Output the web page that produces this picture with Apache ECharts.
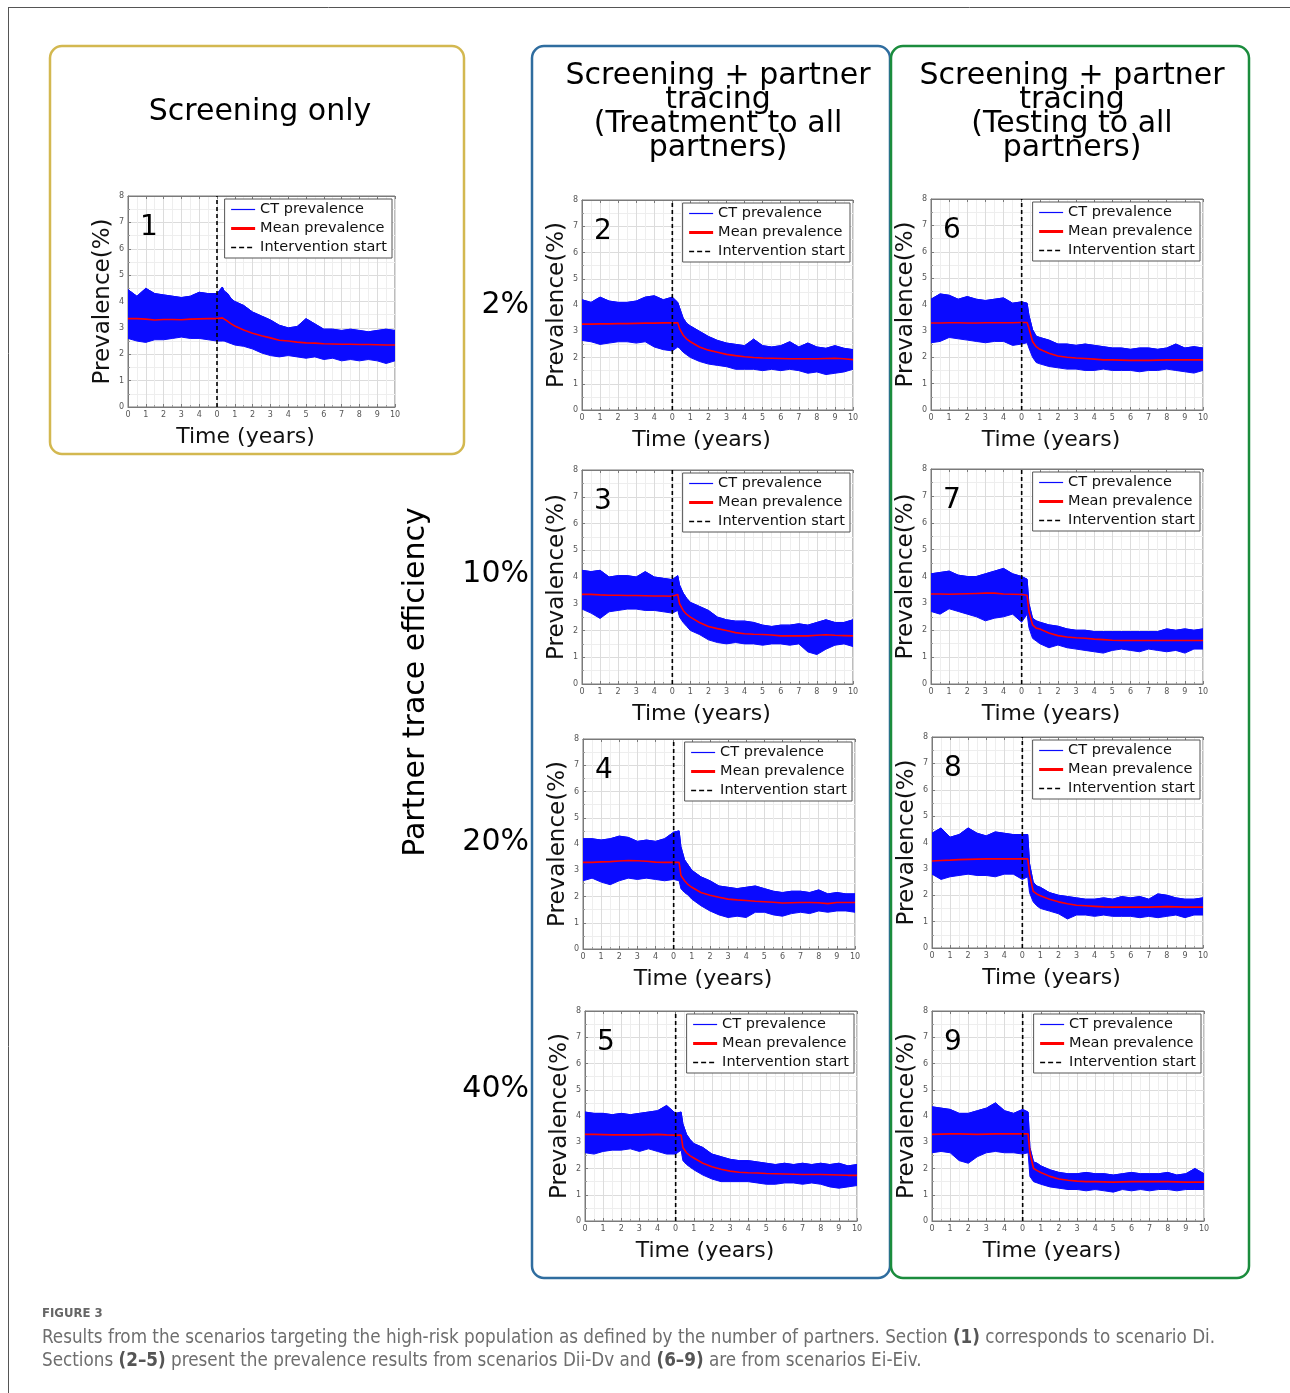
<!DOCTYPE html>
<html><head><meta charset="utf-8">
<script src="https://cdn.jsdelivr.net/npm/echarts@6/dist/echarts.min.js"></script>
<style>html,body{margin:0;padding:0;background:#fff}#c{width:1290px;height:1393px}</style>
</head><body><div id="c"></div>
<script>
// ---------- DATA ----------
const TIME = [0,0.5,1,1.5,2,2.5,3,3.5,4,4.5,5,5.3,5.4,5.6,5.8,6,6.5,7,7.5,8,8.5,9,9.5,10,10.5,11,11.5,12,12.5,13,13.5,14,14.5,15];
const X_TICK_LABELS = ['0','1','2','3','4','0','1','2','3','4','5','6','7','8','9','10'];
const INTERVENTION = 5;
const Y_MIN = 0, Y_MAX = 8;
const PANEL_LABELS = ['1','2','3','4','5','6','7','8','9'];
const LEGEND_NAMES = ['CT prevalence','Mean prevalence','Intervention start'];
const ROW_LABELS = ['2%','10%','20%','40%'];

const mean1 = [3.35,3.35,3.33,3.30,3.32,3.32,3.31,3.33,3.34,3.35,3.35, 3.38,3.34,3.25,3.15,3.07, 2.92,2.80,2.70,2.62,2.53,2.50,2.46,2.43,2.42,2.40,2.39,2.38,2.38,2.37,2.37,2.36,2.35,2.35];
const upper1 = [4.45,4.2,4.5,4.3,4.25,4.2,4.15,4.2,4.35,4.3,4.3, 4.55,4.4,4.3,4.1,4.0, 3.85,3.6,3.45,3.3,3.1,3.0,3.05,3.35,3.15,2.95,2.95,2.9,2.95,2.9,2.85,2.9,2.95,2.9];
const lower1 = [2.6,2.5,2.45,2.55,2.55,2.6,2.65,2.6,2.6,2.55,2.5, 2.5,2.5,2.45,2.4,2.35, 2.3,2.2,2.05,1.95,1.9,1.95,1.9,1.85,1.9,1.8,1.85,1.75,1.8,1.75,1.8,1.75,1.65,1.75];

const mean2 = [3.27,3.27,3.28,3.28,3.29,3.29,3.30,3.31,3.31,3.32,3.32, 3.32,3.1,2.85,2.7,2.6, 2.4,2.28,2.2,2.12,2.07,2.03,2.0,1.98,1.97,1.96,1.95,1.95,1.95,1.95,1.96,1.97,1.95,1.92];
const upper2 = [4.2,4.1,4.3,4.15,4.1,4.1,4.15,4.3,4.35,4.2,4.3, 4.1,3.9,3.5,3.3,3.2, 3.0,2.8,2.65,2.55,2.5,2.45,2.7,2.45,2.4,2.45,2.6,2.4,2.55,2.4,2.35,2.45,2.35,2.3];
const lower2 = [2.65,2.6,2.5,2.55,2.6,2.6,2.55,2.6,2.4,2.3,2.25, 2.4,2.35,2.2,2.1,2.0, 1.85,1.75,1.7,1.65,1.55,1.55,1.55,1.5,1.55,1.5,1.55,1.5,1.4,1.45,1.35,1.4,1.45,1.55];

const mean3 = [3.35,3.35,3.33,3.32,3.32,3.31,3.31,3.30,3.29,3.29,3.28, 3.35,3.0,2.75,2.6,2.5, 2.3,2.15,2.07,2.0,1.92,1.88,1.86,1.85,1.83,1.8,1.8,1.8,1.8,1.82,1.84,1.82,1.81,1.8];
const upper3 = [4.25,4.2,4.25,4.0,4.05,4.05,4.0,4.2,4.0,3.95,3.9, 4.05,3.7,3.4,3.2,3.05, 2.9,2.75,2.5,2.4,2.35,2.35,2.3,2.2,2.15,2.2,2.2,2.25,2.2,2.3,2.4,2.3,2.3,2.4];
const lower3 = [2.8,2.65,2.45,2.7,2.75,2.8,2.8,2.75,2.75,2.7,2.65, 2.75,2.5,2.3,2.15,2.0, 1.85,1.65,1.55,1.5,1.55,1.5,1.5,1.45,1.5,1.5,1.45,1.5,1.2,1.1,1.3,1.45,1.5,1.4];

const mean4 = [3.3,3.3,3.32,3.33,3.35,3.37,3.36,3.34,3.31,3.3,3.3, 3.3,2.8,2.6,2.45,2.35, 2.15,2.05,1.97,1.9,1.87,1.85,1.82,1.8,1.78,1.75,1.76,1.77,1.77,1.76,1.73,1.77,1.77,1.77];
const upper4 = [4.2,4.2,4.15,4.2,4.3,4.25,4.1,4.15,4.1,4.2,4.45, 4.5,3.9,3.4,3.2,3.0, 2.75,2.6,2.4,2.35,2.3,2.35,2.4,2.3,2.2,2.15,2.2,2.2,2.15,2.25,2.1,2.15,2.1,2.1];
const lower4 = [2.6,2.7,2.55,2.45,2.6,2.7,2.65,2.7,2.65,2.6,2.65, 2.6,2.3,2.15,2.05,1.9, 1.65,1.45,1.3,1.2,1.25,1.2,1.4,1.4,1.3,1.25,1.35,1.4,1.35,1.45,1.4,1.45,1.45,1.4];

const mean5 = [3.3,3.3,3.29,3.28,3.28,3.28,3.28,3.29,3.3,3.28,3.27, 3.27,2.8,2.6,2.48,2.4, 2.2,2.07,1.97,1.9,1.86,1.84,1.83,1.81,1.8,1.79,1.78,1.77,1.77,1.77,1.76,1.75,1.74,1.74];
const upper5 = [4.15,4.1,4.1,4.05,4.1,4.05,4.1,4.15,4.2,4.4,4.1, 4.15,3.7,3.3,3.1,2.95, 2.8,2.55,2.45,2.35,2.3,2.3,2.25,2.2,2.15,2.2,2.15,2.2,2.15,2.2,2.15,2.2,2.1,2.15];
const lower5 = [2.6,2.55,2.65,2.7,2.7,2.75,2.65,2.75,2.65,2.55,2.55, 2.7,2.3,2.15,2.05,1.95, 1.75,1.6,1.5,1.5,1.5,1.5,1.45,1.4,1.4,1.45,1.45,1.4,1.45,1.4,1.3,1.25,1.3,1.35];

const mean6 = [3.3,3.3,3.31,3.31,3.3,3.3,3.31,3.31,3.31,3.31,3.32, 3.32,3.1,2.6,2.4,2.3, 2.15,2.05,2.0,1.97,1.95,1.93,1.9,1.9,1.89,1.88,1.88,1.88,1.89,1.9,1.9,1.9,1.9,1.9];
const upper6 = [4.2,4.4,4.35,4.2,4.3,4.2,4.15,4.2,4.25,4.05,4.1, 4.05,3.6,3.05,2.8,2.75, 2.65,2.5,2.5,2.45,2.5,2.45,2.4,2.35,2.35,2.3,2.35,2.35,2.3,2.35,2.5,2.35,2.4,2.35];
const lower6 = [2.55,2.6,2.75,2.7,2.65,2.6,2.55,2.6,2.6,2.45,2.5, 2.55,2.35,2.0,1.8,1.75, 1.65,1.6,1.55,1.55,1.5,1.5,1.55,1.5,1.5,1.5,1.45,1.5,1.5,1.55,1.5,1.45,1.4,1.5];

const mean7 = [3.35,3.35,3.34,3.35,3.36,3.37,3.38,3.38,3.35,3.34,3.33, 3.3,2.7,2.2,2.08,2.05, 1.9,1.8,1.75,1.72,1.7,1.67,1.65,1.63,1.62,1.62,1.62,1.62,1.62,1.62,1.62,1.62,1.62,1.62];
const upper7 = [4.1,4.15,4.2,4.05,4.0,4.0,4.1,4.2,4.3,4.1,4.0, 3.9,3.0,2.45,2.35,2.3, 2.2,2.15,2.05,2.0,2.0,1.95,1.95,1.95,1.95,1.95,1.95,1.95,1.95,2.05,2.0,2.05,2.0,2.05];
const lower7 = [2.7,2.6,2.8,2.7,2.6,2.5,2.35,2.45,2.5,2.6,2.3, 2.6,2.1,1.7,1.6,1.5, 1.35,1.45,1.35,1.3,1.25,1.2,1.15,1.25,1.3,1.25,1.2,1.3,1.25,1.2,1.25,1.15,1.3,1.3];

const mean8 = [3.3,3.32,3.33,3.35,3.36,3.37,3.38,3.38,3.38,3.38,3.38, 3.38,2.8,2.15,2.05,1.98, 1.85,1.75,1.68,1.62,1.6,1.58,1.56,1.55,1.55,1.55,1.55,1.55,1.56,1.57,1.56,1.55,1.55,1.55];
const upper8 = [4.35,4.55,4.2,4.3,4.55,4.35,4.25,4.4,4.35,4.3,4.3, 4.3,3.2,2.5,2.35,2.3, 2.1,2.0,1.95,1.9,1.85,1.85,1.9,1.85,1.95,1.9,1.95,1.85,2.05,2.0,1.9,1.85,1.85,1.9];
const lower8 = [2.8,2.6,2.7,2.75,2.8,2.75,2.75,2.7,2.8,2.8,2.6, 2.7,2.1,1.75,1.6,1.5, 1.4,1.3,1.1,1.25,1.25,1.2,1.25,1.2,1.2,1.2,1.15,1.2,1.15,1.2,1.25,1.15,1.25,1.25];

const mean9 = [3.3,3.31,3.32,3.32,3.31,3.3,3.31,3.32,3.32,3.32,3.32, 3.32,2.6,2.0,1.92,1.85, 1.7,1.6,1.55,1.52,1.5,1.5,1.49,1.48,1.49,1.5,1.5,1.5,1.5,1.5,1.49,1.48,1.48,1.48];
const upper9 = [4.35,4.3,4.25,4.1,4.1,4.2,4.3,4.5,4.2,4.1,4.25, 4.15,2.8,2.25,2.2,2.1, 1.95,1.85,1.8,1.8,1.85,1.8,1.8,1.75,1.8,1.85,1.8,1.8,1.8,1.85,1.75,1.8,2.0,1.8];
const lower9 = [2.6,2.65,2.6,2.3,2.2,2.45,2.6,2.65,2.6,2.6,2.55, 2.6,1.7,1.5,1.45,1.4, 1.3,1.25,1.2,1.2,1.15,1.2,1.15,1.1,1.2,1.15,1.2,1.15,1.2,1.2,1.15,1.2,1.2,1.2];

const PANELS = [
  {mean:mean1, upper:upper1, lower:lower1},
  {mean:mean2, upper:upper2, lower:lower2},
  {mean:mean3, upper:upper3, lower:lower3},
  {mean:mean4, upper:upper4, lower:lower4},
  {mean:mean5, upper:upper5, lower:lower5},
  {mean:mean6, upper:upper6, lower:lower6},
  {mean:mean7, upper:upper7, lower:lower7},
  {mean:mean8, upper:upper8, lower:lower8},
  {mean:mean9, upper:upper9, lower:lower9}
];

// ---------- LAYOUT ----------
const W = 1290;
const LAYOUT = [ // [left, top, right, bottom] of each plot area
  [128,196,395,407],
  [582,200,853,410],
  [582,470,853,684],
  [583,739,855,949],
  [585,1011,857,1221],
  [931,199,1203,410],
  [931,469,1203,684],
  [932,737,1203,948],
  [932,1011,1204,1221]
];
const ROW_Y = [305,574,842,1089];
const F = "'DejaVu Sans', sans-serif";
const BLUE = '#0a0aff';
const HIDDEN = {color:'rgba(0,0,0,0)', borderWidth:0, opacity:0};

const chart = echarts.init(document.getElementById('c'));
const grids=[], xAxes=[], yAxes=[], series=[], legends=[], graphics=[];

PANELS.forEach((p,i)=>{
  const [l,t,r,b] = LAYOUT[i];
  grids.push({left:l, top:t, width:r-l, height:b-t, show:true, borderColor:'#7a7a7a', borderWidth:1, backgroundColor:'rgba(0,0,0,0)'});
  xAxes.push({
    type:'value', gridIndex:i, min:0, max:15, interval:1,
    axisLine:{show:true, onZero:false, lineStyle:{color:'#7a7a7a', width:1}},
    axisTick:{show:true, inside:true, length:3, lineStyle:{color:'#7a7a7a'}},
    minorTick:{show:true, splitNumber:2, length:2, lineStyle:{color:'#9a9a9a'}},
    axisLabel:{fontSize:8, color:'#555', margin:4, fontFamily:F, formatter:v=>X_TICK_LABELS[Math.round(v)]},
    splitLine:{show:true, lineStyle:{color:'#dcdcdc', width:1}},
    minorSplitLine:{show:true, lineStyle:{color:'#eeeeee', width:1}},
    name:'Time (years)', nameLocation:'middle', nameGap:19,
    nameTextStyle:{fontSize:22, fontFamily:F, color:'#111', padding:[0,32,0,0]}
  });
  xAxes.push({
    type:'value', gridIndex:i, min:0, max:15, interval:1, position:'top',
    axisLine:{show:true, onZero:false, lineStyle:{color:'#7a7a7a', width:1}},
    axisTick:{show:true, inside:true, length:3, lineStyle:{color:'#7a7a7a'}},
    axisLabel:{show:false}, splitLine:{show:false}
  });
  yAxes.push({
    type:'value', gridIndex:i, min:Y_MIN, max:Y_MAX, interval:1,
    axisLine:{show:true, onZero:false, lineStyle:{color:'#7a7a7a', width:1}},
    axisTick:{show:true, inside:true, length:3, lineStyle:{color:'#7a7a7a'}},
    minorTick:{show:true, splitNumber:2, length:2, lineStyle:{color:'#9a9a9a'}},
    axisLabel:{fontSize:8, color:'#555', margin:4, fontFamily:F},
    splitLine:{show:true, lineStyle:{color:'#dcdcdc', width:1}},
    minorSplitLine:{show:true, lineStyle:{color:'#eeeeee', width:1}},
    name:'Prevalence(%)', nameLocation:'middle', nameGap:12, nameRotate:90,
    nameTextStyle:{fontSize:23, fontFamily:F, color:'#111'}
  });
  const xi = 2*i;
  // band of trajectories: polygon between lower and upper envelopes, via axis scales
  series.push({
    type:'custom', name:'band', xAxisIndex:xi, yAxisIndex:i, silent:true, z:2, clip:true,
    data:TIME.map((tt,k)=>[tt,p.lower[k],p.upper[k]]),
    encode:{x:0, y:[1,2]},
    renderItem:(params, api)=>{
      if (params.dataIndex !== 0) return null;
      const top = TIME.map((tt,k)=>api.coord([tt,p.upper[k]]));
      const bot = TIME.map((tt,k)=>api.coord([tt,p.lower[k]])).reverse();
      return {type:'polygon', shape:{points:top.concat(bot)}, style:{fill:BLUE, stroke:BLUE, lineWidth:1}};
    }
  });
  series.push({
    type:'line', name:'CT prevalence', xAxisIndex:xi, yAxisIndex:i,
    data:TIME.map((tt,k)=>[tt,p.upper[k]]), symbol:'none', silent:true,
    lineStyle:{color:BLUE, width:1}, itemStyle:{color:BLUE}, z:2
  });
  series.push({
    type:'line', name:'Mean prevalence', xAxisIndex:xi, yAxisIndex:i,
    data:TIME.map((tt,k)=>[tt,p.mean[k]]), symbol:'none', silent:true,
    lineStyle:{color:'#ff0000', width:1.6}, itemStyle:{color:'#ff0000'}, z:3
  });
  series.push({
    type:'line', name:'Intervention start', xAxisIndex:xi, yAxisIndex:i,
    data:[[INTERVENTION,Y_MIN],[INTERVENTION,Y_MAX]], symbol:'none', silent:true,
    lineStyle:{color:'#000', width:1.6, type:[4,3]}, itemStyle:{color:'#000'}, z:4
  });
  legends.push({
    orient:'vertical', right: W-(r-3), top: t+3,
    backgroundColor:'#fff', borderColor:'#555', borderWidth:1, borderRadius:0,
    padding:[3,5,3,5], itemGap:4, itemWidth:24, itemHeight:14,
    selectedMode:false,
    textStyle:{fontSize:14.5, fontFamily:F, color:'#111'},
    data:[
      {name:LEGEND_NAMES[0], itemStyle:HIDDEN, lineStyle:{width:1.2, color:BLUE}},
      {name:LEGEND_NAMES[1], itemStyle:HIDDEN, lineStyle:{width:3, color:'#ff0000'}},
      {name:LEGEND_NAMES[2], itemStyle:HIDDEN, lineStyle:{width:1.4, color:'#000', type:[5,3]}}
    ]
  });
  graphics.push({type:'text', x:l+12, y:t+32, z:10,
    style:{text:PANEL_LABELS[i], fontSize:28, fontFamily:F, fill:'#000', textAlign:'left', textVerticalAlign:'middle'}});
});

// boxes
graphics.push({type:'line', shape:{x1:8,y1:7.5,x2:1290,y2:7.5}, style:{stroke:'#555', lineWidth:1}});
graphics.push({type:'line', shape:{x1:8.5,y1:7,x2:8.5,y2:1393}, style:{stroke:'#555', lineWidth:1}});
graphics.push({type:'rect', shape:{x:50,y:46,width:414,height:408,r:12}, style:{fill:'none', stroke:'#d3b850', lineWidth:2.5}});
graphics.push({type:'rect', shape:{x:532,y:46,width:358,height:1232,r:12}, style:{fill:'none', stroke:'#2f6d9f', lineWidth:2.5}});
graphics.push({type:'rect', shape:{x:891,y:46,width:358,height:1232,r:12}, style:{fill:'none', stroke:'#1b8c3d', lineWidth:2.5}});

// titles
graphics.push({type:'text', x:260, y:112, style:{text:'Screening only', fontSize:30, fontFamily:F, fill:'#000', textAlign:'center', textVerticalAlign:'middle'}});
graphics.push({type:'text', x:718, y:112, style:{text:'Screening + partner\ntracing\n(Treatment to all\npartners)', fontSize:30, lineHeight:24, fontFamily:F, fill:'#000', textAlign:'center', textVerticalAlign:'middle'}});
graphics.push({type:'text', x:1072, y:112, style:{text:'Screening + partner\ntracing\n(Testing to all\npartners)', fontSize:30, lineHeight:24, fontFamily:F, fill:'#000', textAlign:'center', textVerticalAlign:'middle'}});

ROW_LABELS.forEach((s,k)=>{
  graphics.push({type:'text', x:529, y:ROW_Y[k], style:{text:s, fontSize:30, fontFamily:F, fill:'#000', textAlign:'right', textVerticalAlign:'middle'}});
});
graphics.push({type:'text', x:416, y:682, rotation:Math.PI/2, style:{text:'Partner trace efficiency', fontSize:30, fontFamily:F, fill:'#000', textAlign:'center', textVerticalAlign:'middle'}});

// caption
const CF = "'DejaVu Sans Condensed', 'Liberation Sans Narrow', sans-serif";
graphics.push({type:'text', x:42, y:1314, style:{text:'FIGURE 3', fontSize:13, fontFamily:CF, fontWeight:'bold', fill:'#666', textVerticalAlign:'middle'}});
const RICH = {a:{fontSize:18.7, fontFamily:CF, fill:'#6e6e6e'}, b:{fontSize:18.7, fontFamily:CF, fontWeight:'bold', fill:'#555'}};
graphics.push({type:'text', x:42, y:1338, style:{
  text:'{a|Results from the scenarios targeting the high-risk population as defined by the number of partners. Section }{b|(1)}{a| corresponds to scenario Di.}',
  rich:RICH, textVerticalAlign:'middle'}});
graphics.push({type:'text', x:42, y:1361, style:{
  text:'{a|Sections }{b|(2–5)}{a| present the prevalence results from scenarios Dii-Dv and }{b|(6–9)}{a| are from scenarios Ei-Eiv.}',
  rich:RICH, textVerticalAlign:'middle'}});

chart.setOption({
  animation:false,
  backgroundColor:'#fff',
  grid:grids, xAxis:xAxes, yAxis:yAxes, series:series, legend:legends, graphic:graphics
});
</script></body></html>
